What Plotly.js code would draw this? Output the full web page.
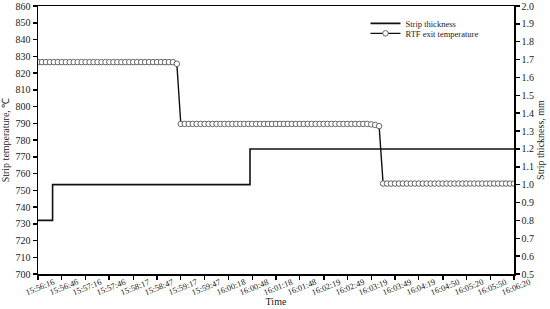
<!DOCTYPE html>
<html>
<head>
<meta charset="utf-8">
<script src="https://cdn.plot.ly/plotly-3.0.1.min.js"></script>
<style>
  html, body { margin: 0; padding: 0; background: #fff; }
  #plot { width: 550px; height: 309px; }
</style>
</head>
<body>
<div id="plot"></div>
<script>
// x axis tick positions (seconds after 15:56:16) and their labels
const tickSeconds = [0, 30, 60, 90, 121, 151, 181, 211, 242, 272, 302, 332, 363, 393, 423, 453, 483, 514, 544, 574, 604];
const tickLabels = ['15:56:16', '15:56:46', '15:57:16', '15:57:46', '15:58:17', '15:58:47', '15:59:17',
    '15:59:47', '16:00:18', '16:00:48', '16:01:18', '16:01:48', '16:02:19', '16:02:49', '16:03:19',
    '16:03:49', '16:04:19', '16:04:50', '16:05:20', '16:05:50', '16:06:20'];

// RTF exit temperature, one reading per sample (121 samples over the window)
const rtfTemp = [
    826.5, 826.5, 826.5, 826.5, 826.5, 826.5, 826.5, 826.5, 826.5, 826.5,
    826.5, 826.5, 826.5, 826.5, 826.5, 826.5, 826.5, 826.5, 826.5, 826.5,
    826.5, 826.5, 826.5, 826.5, 826.5, 826.5, 826.5, 826.5, 826.5, 826.5,
    826.5, 826.5, 826.5, 826.5, 826.5, 825.5,
    789.6, 789.6, 789.6, 789.6, 789.6, 789.6, 789.6, 789.6, 789.6, 789.6,
    789.6, 789.6, 789.6, 789.6, 789.6, 789.6, 789.6, 789.6, 789.6, 789.6,
    789.6, 789.6, 789.6, 789.6, 789.6, 789.6, 789.6, 789.6, 789.6, 789.6,
    789.6, 789.6, 789.6, 789.6, 789.6, 789.6, 789.6, 789.6, 789.6, 789.6,
    789.6, 789.6, 789.6, 789.6, 789.6, 789.6, 789.6, 789.6,
    789.3, 789.0, 788.3,
    754.0, 754.0, 754.0, 754.0, 754.0, 754.0, 754.0, 754.0, 754.0, 754.0,
    754.0, 754.0, 754.0, 754.0, 754.0, 754.0, 754.0, 754.0, 754.0, 754.0,
    754.0, 754.0, 754.0, 754.0, 754.0, 754.0, 754.0, 754.0, 754.0, 754.0,
    754.0, 754.0, 754.0, 754.0
];

// strip thickness changes (seconds, mm), drawn as steps
const thickTimes = [0, 18.5, 269, 604];
const thickValues = [0.8, 1.0, 1.2, 1.2];

const totalSeconds = 604;
const sampleStep = totalSeconds / (rtfTemp.length - 1);
const rtfTimes = rtfTemp.map((v, i) => i * sampleStep);

const font = 'Liberation Serif, Times New Roman, serif';

const thickTrace = {
    x: thickTimes,
    y: thickValues,
    name: 'Strip thickness',
    mode: 'lines',
    type: 'scatter',
    yaxis: 'y2',
    legend: 'legend',
    line: { color: '#111', width: 1.6, shape: 'hv' }
};

const tempTrace = {
    x: rtfTimes,
    y: rtfTemp,
    name: 'RTF exit temperature',
    mode: 'lines+markers',
    type: 'scatter',
    legend: 'legend2',
    line: { color: '#111', width: 1.4 },
    marker: { symbol: 'circle', size: 5.5, color: '#fff', line: { color: '#555', width: 0.9 } }
};

const axisStyle = {
    showline: true,
    linecolor: '#000',
    linewidth: 1.5,
    ticks: 'outside',
    ticklen: 4,
    tickwidth: 1.5,
    tickcolor: '#000',
    showgrid: false,
    zeroline: false,
    tickfont: { family: font, size: 10, color: '#222' }
};

const legendStyle = {
    xanchor: 'left', yanchor: 'middle',
    bgcolor: 'rgba(0,0,0,0)',
    font: { family: font, size: 8.5, color: '#222' },
    itemwidth: 30
};

// slanted time labels, centred under each tick
const timeLabels = tickSeconds.map((s, i) => ({
    x: s, xref: 'x',
    y: -0.05, yref: 'paper',
    text: tickLabels[i],
    showarrow: false,
    textangle: -22,
    xanchor: 'center', yanchor: 'middle',
    xshift: 2,
    font: { family: font, size: 8.5, color: '#222' }
}));

const layout = {
    width: 550,
    height: 309,
    margin: { l: 38, r: 36, t: 6, b: 35 },
    paper_bgcolor: '#fff',
    plot_bgcolor: '#fff',
    font: { family: font, size: 10, color: '#222' },
    showlegend: true,
    legend: Object.assign({}, legendStyle, { x: 0.688, y: 0.935 }),
    legend2: Object.assign({}, legendStyle, { x: 0.688, y: 0.898 }),
    annotations: timeLabels,
    xaxis: Object.assign({}, axisStyle, {
        range: [0, totalSeconds],
        tickvals: tickSeconds,
        showticklabels: false,
        mirror: true,
        title: { text: 'Time', font: { family: font, size: 10, color: '#222' }, standoff: 19 }
    }),
    yaxis: Object.assign({}, axisStyle, {
        range: [700, 860],
        dtick: 10,
        tick0: 700,
        title: { text: 'Strip temperature, ℃', font: { family: font, size: 10, color: '#222' }, standoff: 4 }
    }),
    yaxis2: Object.assign({}, axisStyle, {
        overlaying: 'y',
        side: 'right',
        range: [0.5, 2.0],
        dtick: 0.1,
        tick0: 0.5,
        tickformat: '.1f',
        title: { text: 'Strip thickness, mm', font: { family: font, size: 10, color: '#222' }, standoff: 4 }
    })
};

Plotly.newPlot('plot', [thickTrace, tempTrace], layout, { displayModeBar: false, staticPlot: true });
</script>
</body>
</html>
